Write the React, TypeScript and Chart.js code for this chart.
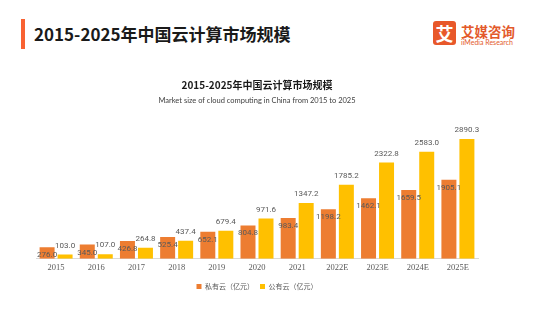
import React, { useEffect, useRef } from "react";
import { Chart, registerables } from "chart.js";

Chart.register(...registerables);

const years = ["2015", "2016", "2017", "2018", "2019", "2020", "2021", "2022E", "2023E", "2024E", "2025E"];
const privateCloud = [276.0, 345.0, 426.8, 525.4, 652.1, 804.8, 983.4, 1198.2, 1462.1, 1659.5, 1905.1];
const publicCloud = [103.0, 107.0, 264.8, 437.4, 679.4, 971.6, 1347.2, 1785.2, 2322.8, 2583.0, 2890.3];
const seriesNames = ["私有云（亿元）", "公有云（亿元）"];
const chartTitle = "2015-2025年中国云计算市场规模";
const chartSubtitle = "Market size of cloud computing in China from 2015 to 2025";
const headerTitle = "2015-2025年中国云计算市场规模";

const ORANGE = "#ED7D31";
const YELLOW = "#FFC000";

const valueLabels = {
  id: "valueLabels",
  afterDatasetsDraw(chart: any) {
    const ctx = chart.ctx;
    ctx.save();
    ctx.font = "8px Roboto";
    ctx.fillStyle = "#595959";
    ctx.textAlign = "center";
    ctx.textBaseline = "middle";
    chart.data.datasets.forEach((ds: any, di: number) => {
      const meta = chart.getDatasetMeta(di);
      meta.data.forEach((el: any, i: number) => {
        const v = ds.data[i] as number;
        const y = di === 0 ? el.y + 8 : el.y - 9;
        ctx.fillText(v.toFixed(1), el.x, y);
      });
    });
    ctx.restore();
  },
};

export default function App() {
  const ref = useRef<HTMLCanvasElement>(null);
  useEffect(() => {
    if (!ref.current) return;
    const chart = new Chart(ref.current, {
      type: "bar",
      data: {
        labels: years,
        datasets: [
          { label: seriesNames[0], data: privateCloud, backgroundColor: ORANGE, categoryPercentage: 0.896, barPercentage: 0.833 },
          { label: seriesNames[1], data: publicCloud, backgroundColor: YELLOW, categoryPercentage: 0.896, barPercentage: 0.833 },
        ],
      },
      options: {
        responsive: false,
        animation: false,
        devicePixelRatio: 1,
        layout: { padding: { left: 36, right: 78, top: 0, bottom: 22 } },
        plugins: {
          title: {
            display: true,
            text: chartTitle,
            color: "#1a1a1a",
            font: { family: "'Noto Sans CJK SC'", size: 10, weight: "bold" },
            padding: { top: 79, bottom: 0 },
          },
          subtitle: {
            display: true,
            text: chartSubtitle,
            color: "#404040",
            font: { family: "Lato", size: 7.5 },
            padding: { top: 5.5, bottom: 8.3 },
          },
          legend: {
            display: true,
            position: "bottom",
            labels: {
              boxWidth: 5,
              boxHeight: 5,
              padding: 6,
              color: "#595959",
              font: { family: "'Noto Sans CJK SC'", size: 7 },
            },
          },
          tooltip: { enabled: false },
        },
        scales: {
          x: {
            grid: { display: false, drawTicks: false },
            border: { display: true, color: "#D9D9D9", width: 1 },
            ticks: { color: "#595959", font: { family: "'Liberation Serif'", size: 8.5 }, padding: 4 },
          },
          y: {
            display: false,
            min: 0,
            max: 3500,
          },
        },
      },
      plugins: [valueLabels],
    });
    return () => chart.destroy();
  }, []);

  return (
    <div style={{ position: "fixed", left: 0, top: 0, width: 556, height: 322, background: "#fff", overflow: "hidden" }}>
      <div style={{ position: "absolute", left: 21, top: 19, width: 4, height: 30, background: "#F96232" }} />
      <div
        style={{
          position: "absolute",
          left: 34,
          top: 24,
          fontFamily: "'Noto Sans CJK SC'",
          fontWeight: 700,
          fontSize: 17,
          lineHeight: "20px",
          color: "#1a1a1a",
          whiteSpace: "nowrap",
        }}
      >
        {headerTitle}
      </div>
      <div
        style={{
          position: "absolute",
          left: 433,
          top: 21,
          width: 23,
          height: 24,
          background: "#E8582A",
          borderRadius: 3,
          color: "#fff",
          fontFamily: "'Noto Sans CJK SC'",
          fontWeight: 700,
          fontSize: 18,
          lineHeight: "24px",
          textAlign: "center",
        }}
      >
        艾
      </div>
      <div
        style={{
          position: "absolute",
          left: 461,
          top: 23,
          fontFamily: "'Noto Sans CJK SC'",
          fontWeight: 700,
          fontSize: 13.5,
          lineHeight: "16px",
          color: "#E35A2B",
          whiteSpace: "nowrap",
        }}
      >
        艾媒咨询
      </div>
      <div
        style={{
          position: "absolute",
          left: 461,
          top: 38,
          fontFamily: "Lato",
          fontSize: 7,
          lineHeight: "9px",
          color: "#E35A2B",
          whiteSpace: "nowrap",
        }}
      >
        iiMedia Research
      </div>
      <canvas ref={ref} width={556} height={322} style={{ position: "absolute", left: 0, top: 0 }} />
    </div>
  );
}
